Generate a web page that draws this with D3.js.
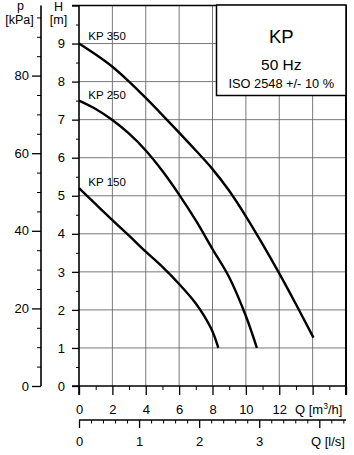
<!DOCTYPE html>
<html>
<head>
<meta charset="utf-8">
<script src="https://cdn.jsdelivr.net/npm/d3@7"></script>
<style>
  html, body { margin: 0; padding: 0; background: #fff; }
  svg { display: block; font-family: "Liberation Sans", Arial, Helvetica, sans-serif; }
</style>
</head>
<body>
<svg id="chart" width="354" height="455"></svg>
<script>
// ---- data ----
const kp350Q = [0, 1, 2, 3, 4, 5, 6, 7, 8, 9, 10, 11, 12, 13, 14.05];
const kp350H = [9.0, 8.71, 8.39, 8.0, 7.57, 7.12, 6.66, 6.19, 5.7, 5.13, 4.46, 3.73, 2.96, 2.15, 1.27];
const kp250Q = [0, 1, 2, 3, 4, 5, 6, 7, 8, 9, 10, 10.66];
const kp250H = [7.5, 7.28, 6.99, 6.63, 6.19, 5.65, 5.03, 4.35, 3.6, 2.86, 1.84, 1.0];
const kp150Q = [0, 1, 2, 3, 4, 5, 6, 7, 7.5, 8, 8.35];
const kp150H = [5.2, 4.78, 4.36, 3.95, 3.53, 3.13, 2.68, 2.17, 1.84, 1.43, 1.0];
const seriesNames = ["KP 350", "KP 250", "KP 150"];

const hTicks = [0, 1, 2, 3, 4, 5, 6, 7, 8, 9, 10];
const hLabels = ["0", "1", "2", "3", "4", "5", "6", "7", "8", "9", ""];
const pTicks = [0, 20, 40, 60, 80];
const qTicks = [0, 2, 4, 6, 8, 10, 12, 14, 16];
const qLabels = ["0", "2", "4", "6", "8", "10", "12", "", ""];
const lsTicks = [0, 1, 2, 3, 4];
const lsLabels = ["0", "1", "2", "3", ""];
const titleLines = ["KP", "50 Hz", "ISO 2548 +/- 10 %"];

// ---- scales ----
const G = 9.80665;
const x = d3.scaleLinear().domain([0, 16]).range([79, 346]);
const y = d3.scaleLinear().domain([0, 10]).range([386, 5.5]);
const yp = d3.scaleLinear().domain([0, 10 * G]).range([386, 5.5]);
const xl = d3.scaleLinear().domain([0, 16 / 3.6]).range([79, 346]);

const svg = d3.select("#chart");
const FS = 12;

// ---- grid ----
const grid = svg.append("g").attr("stroke", "#6a6a6a").attr("stroke-width", 0.9);
d3.range(2, 16, 2).forEach(q => {
  grid.append("line").attr("x1", x(q)).attr("x2", x(q)).attr("y1", y(10)).attr("y2", y(0));
});
d3.range(1, 10, 1).forEach(h => {
  grid.append("line").attr("x1", x(0)).attr("x2", x(16)).attr("y1", y(h)).attr("y2", y(h));
});

// ---- frame ----
const frame = svg.append("g").attr("stroke", "#000").attr("fill", "none");
frame.append("line").attr("x1", x(0)).attr("x2", x(0)).attr("y1", y(10)).attr("y2", y(0) + 9).attr("stroke-width", 1.6);
frame.append("line").attr("x1", x(16)).attr("x2", x(16)).attr("y1", y(10)).attr("y2", y(0) + 9).attr("stroke-width", 2);
frame.append("line").attr("x1", x(0) - 7).attr("x2", x(16)).attr("y1", y(10)).attr("y2", y(10)).attr("stroke-width", 1.6);
frame.append("line").attr("x1", x(0) - 7).attr("x2", x(16)).attr("y1", y(0)).attr("y2", y(0)).attr("stroke-width", 1.6);

function styleAxis(g, sw) {
  g.select(".domain").remove();
  g.selectAll(".tick line").attr("stroke", "#000").attr("stroke-width", sw);
  g.selectAll(".tick text").attr("fill", "#000").attr("font-size", FS).attr("font-family", null);
}

// ---- H axis ----
const hMajor = svg.append("g").attr("transform", `translate(${x(0)},0)`)
  .call(d3.axisLeft(y).tickValues(hTicks).tickSize(7).tickPadding(7)
    .tickFormat((d, i) => hLabels[i]));
styleAxis(hMajor, 1.3);
hMajor.selectAll(".tick text").attr("font-size", 13);
const hMinor = svg.append("g").attr("transform", `translate(${x(0)},0)`)
  .call(d3.axisLeft(y).tickValues(d3.range(0.5, 10, 1)).tickSize(3).tickFormat(""));
styleAxis(hMinor, 1);

// ---- p axis ----
svg.append("line").attr("x1", 41).attr("x2", 41).attr("y1", y(10)).attr("y2", y(0))
  .attr("stroke", "#000").attr("stroke-width", 1.6);
const pMajor = svg.append("g").attr("transform", "translate(41,0)")
  .call(d3.axisLeft(yp).tickValues(pTicks).tickSize(9).tickPadding(3));
styleAxis(pMajor, 1.3);
pMajor.selectAll(".tick text").attr("font-size", 13);
const pMinor = svg.append("g").attr("transform", "translate(41,0)")
  .call(d3.axisLeft(yp).tickValues(d3.range(5, 100, 5).filter(v => v % 20 !== 0)).tickSize(4).tickFormat(""));
styleAxis(pMinor, 1);

// ---- Q m3/h axis ----
const qMajor = svg.append("g").attr("transform", `translate(0,${y(0)})`)
  .call(d3.axisBottom(x).tickValues(qTicks).tickSize(9).tickPadding(10)
    .tickFormat((d, i) => qLabels[i]));
styleAxis(qMajor, 1.3);
qMajor.selectAll(".tick text").attr("font-size", 13);
const qMinor = svg.append("g").attr("transform", `translate(0,${y(0)})`)
  .call(d3.axisBottom(x).tickValues(d3.range(1, 16, 2)).tickSize(4).tickFormat(""));
styleAxis(qMinor, 1);

// ---- Q l/s axis ----
const lsY = 420;
svg.append("line").attr("x1", xl(0)).attr("x2", x(16)).attr("y1", lsY).attr("y2", lsY)
  .attr("stroke", "#000").attr("stroke-width", 1.6);
const lsMajor = svg.append("g").attr("transform", `translate(0,${lsY})`)
  .call(d3.axisBottom(xl).tickValues(lsTicks).tickSize(8).tickPadding(9)
    .tickFormat((d, i) => lsLabels[i]));
styleAxis(lsMajor, 1.3);
lsMajor.selectAll(".tick text").attr("font-size", 13);
const lsMinor = svg.append("g").attr("transform", `translate(0,${lsY})`)
  .call(d3.axisBottom(xl).tickValues(d3.range(0.2, 4.45, 0.2).filter(v => Math.abs(v - Math.round(v)) > 1e-6)).tickSize(3.5).tickFormat(""));
styleAxis(lsMinor, 1);

// ---- axis titles ----
const txt = (s, xx, yy, size, anchor) => svg.append("text").attr("x", xx).attr("y", yy)
  .attr("font-size", size).attr("text-anchor", anchor || "middle").attr("fill", "#000").text(s);
txt("p", 20.5, 9.5, 12.5);
txt("[kPa]", 19.5, 24, 12.5);
txt("H", 58.5, 10.8, 12.5);
txt("[m]", 58.5, 24, 12.5);
const qt = svg.append("text").attr("x", 295).attr("y", 413.5).attr("font-size", 13).attr("fill", "#000");
qt.append("tspan").text("Q [m");
qt.append("tspan").attr("font-size", 8.5).attr("dy", -4.5).text("3");
qt.append("tspan").attr("dy", 4.5).text("/h]");
txt("Q [l/s]", 311, 446, 13, "start");

// ---- curves ----
const line = d3.line().x(d => x(d[0])).y(d => y(d[1])).curve(d3.curveCatmullRom.alpha(0.5));
const series = [
  d3.zip(kp350Q, kp350H),
  d3.zip(kp250Q, kp250H),
  d3.zip(kp150Q, kp150H)
];
svg.append("g").selectAll("path").data(series).join("path")
  .attr("d", line).attr("fill", "none").attr("stroke", "#000")
  .attr("stroke-width", 2.4).attr("stroke-linecap", "butt");

const labelY = [39.8, 99, 185.7];
seriesNames.forEach((n, i) => txt(n, 88.3, labelY[i], 11.5, "start"));

// ---- title box ----
svg.append("rect").attr("x", 216.5).attr("y", 5).attr("width", 129.5).attr("height", 90.5)
  .attr("fill", "#fff").attr("stroke", "#000").attr("stroke-width", 1.5);
const cx = 281.3;
txt(titleLines[0], cx, 42.5, 18.5);
txt(titleLines[1], cx, 69.5, 15.5);
txt(titleLines[2], cx, 87.7, 12.8);
</script>
</body>
</html>
